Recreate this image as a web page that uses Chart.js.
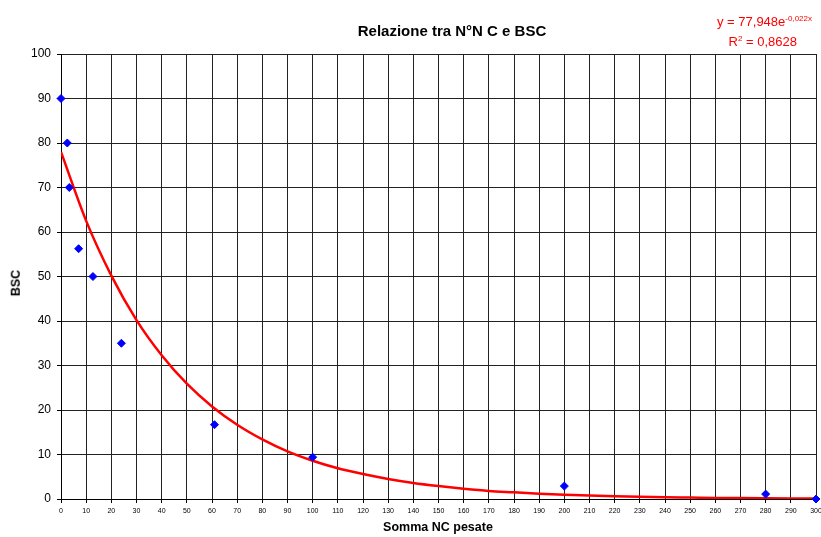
<!DOCTYPE html>
<html>
<head>
<meta charset="utf-8">
<script src="https://cdn.jsdelivr.net/npm/chart.js@4.4.1/dist/chart.umd.min.js"></script>
<style>
  body { margin: 0; background: #fff; font-family: "Liberation Sans", Arial, sans-serif; }
  #wrap { position: relative; width: 821px; height: 537px; }
  .lbl { position: absolute; font-weight: bold; color: #000; white-space: nowrap; line-height: 1; }
  #title { left: 452px; top: 23px; transform: translateX(-50%); font-size: 15px; }
  #xtitle { left: 438px; top: 521px; transform: translateX(-50%); font-size: 12.5px; }
  #ytitle { left: 16px; top: 283px; transform: translate(-50%, -50%) rotate(-90deg); font-size: 12.5px; }
  .eq { position: absolute; color: #ff0000; font-size: 13px; white-space: nowrap; line-height: 1; }
  .eq sup { font-size: 8px; vertical-align: 5px; line-height: 0; }
  #eq1 { right: 9px; top: 15px; }
  #eq2 { right: 24px; top: 35px; }
</style>
</head>
<body>
<div id="wrap">
  <canvas id="chart" width="821" height="537"></canvas>
  <div class="lbl" id="title">Relazione tra N°N C e BSC</div>
  <div class="lbl" id="xtitle">Somma NC pesate</div>
  <div class="lbl" id="ytitle">BSC</div>
  <div class="eq" id="eq1">y = 77,948e<sup>-0,022x</sup></div>
  <div class="eq" id="eq2">R<sup>2</sup> = 0,8628</div>
</div>
<script>
// measured points
const sommaNC = [0, 2.5, 3.3, 7, 12.7, 24, 61, 100, 200, 280, 300];
const bscValues = [90, 80, 70, 56.25, 50, 35, 16.7, 9.4, 2.9, 1.1, 0];

// exponential trendline, every 10 units
const trendX = [0, 10, 20, 30, 40, 50, 60, 70, 80, 90, 100, 110, 120, 130, 140, 150,
  160, 170, 180, 190, 200, 210, 220, 230, 240, 250, 260, 270, 280, 290, 300];
const trendY = [78, 62.5, 50.2, 40.2, 32.3, 25.9, 20.8, 16.7, 13.4, 10.7, 8.6, 6.9, 5.6, 4.5, 3.6,
  2.9, 2.3, 1.8, 1.5, 1.2, 0.95, 0.76, 0.61, 0.49, 0.39, 0.32, 0.25, 0.2, 0.16, 0.13, 0.1];

const scatterData = sommaNC.map((x, i) => ({ x, y: bscValues[i] }));
const trendData = trendX.map((x, i) => ({ x, y: trendY[i] }));

const ctx = document.getElementById('chart').getContext('2d');
new Chart(ctx, {
  type: 'scatter',
  data: {
    datasets: [
      {
        label: 'Trend',
        type: 'line',
        data: trendData,
        borderColor: '#ff0000',
        borderWidth: 2.5,
        pointRadius: 0,
        fill: false,
        cubicInterpolationMode: 'monotone',
        order: 2
      },
      {
        label: 'BSC',
        data: scatterData,
        pointStyle: 'rectRot',
        pointRadius: 4,
        backgroundColor: '#0000ff',
        borderColor: '#0000ff',
        borderWidth: 1,
        order: 1,
        clip: false
      }
    ]
  },
  options: {
    responsive: false,
    animation: false,
    layout: { padding: { top: 54, right: 5, left: 0, bottom: 0 } },
    plugins: {
      legend: { display: false },
      tooltip: { enabled: false }
    },
    scales: {
      x: {
        type: 'linear',
        min: 0,
        max: 300,
        ticks: {
          stepSize: 10,
          color: '#000',
          font: { family: 'Liberation Sans', size: 7 },
          padding: 4,
          maxRotation: 0,
          autoSkip: false
        },
        grid: { color: '#222', lineWidth: 1, tickLength: 4, tickColor: '#000' },
        border: { color: '#000' },
        afterFit: s => { s.height = 38; s.paddingRight = 0; s.paddingLeft = 0; }
      },
      y: {
        min: 0,
        max: 100,
        ticks: {
          stepSize: 10,
          color: '#000',
          font: { family: 'Liberation Sans', size: 12 },
          padding: 6
        },
        grid: { color: '#222', lineWidth: 1, tickLength: 4, tickColor: '#000' },
        border: { color: '#000' },
        afterFit: s => { s.width = 61; }
      }
    }
  }
});
</script>
</body>
</html>
